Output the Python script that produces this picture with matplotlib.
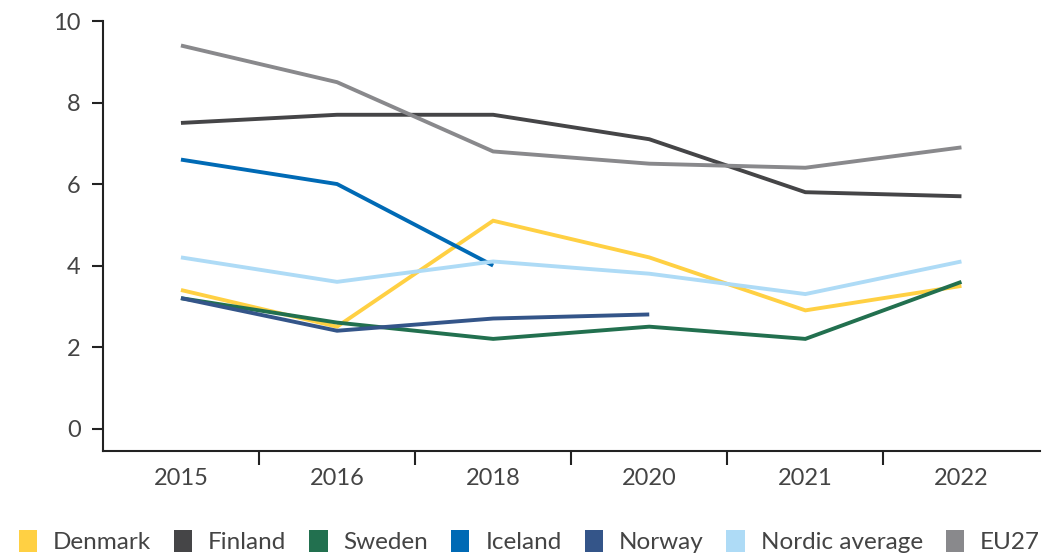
import numpy as np
import matplotlib
matplotlib.use('Agg')
import matplotlib.pyplot as plt
from matplotlib.patches import Patch

plt.rcParams['font.family'] = ['Lato', 'DejaVu Sans']

# Values per year (NaN where no data)
years = ['2015', '2016', '2018', '2020', '2021', '2022']
denmark = [3.4, 2.5, 5.1, 4.2, 2.9, 3.5]
finland = [7.5, 7.7, 7.7, 7.1, 5.8, 5.7]
sweden = [3.2, 2.6, 2.2, 2.5, 2.2, 3.6]
iceland = [6.6, 6.0, 4.0, np.nan, np.nan, np.nan]
norway = [3.2, 2.4, 2.7, 2.8, np.nan, np.nan]
nordic_avg = [4.2, 3.6, 4.1, 3.8, 3.3, 4.1]
eu27 = [9.4, 8.5, 6.8, 6.5, 6.4, 6.9]

series = [
    ('Denmark', denmark, '#FFD043'),
    ('Finland', finland, '#454547'),
    ('Sweden', sweden, '#22704F'),
    ('Iceland', iceland, '#006AB5'),
    ('Norway', norway, '#345589'),
    ('Nordic average', nordic_avg, '#AEDBF6'),
    ('EU27', eu27, '#89898C'),
]

fig = plt.figure(figsize=(10.5, 5.54), dpi=100)
ax = fig.add_axes([0.098, 0.186, 0.892, 0.776])

x = np.arange(len(years))
for name, vals, color in series:
    ax.plot(x, vals, color=color, linewidth=2.8, solid_capstyle='butt',
            solid_joinstyle='miter')

ax.set_xlim(-0.5, len(years) - 0.5)
ax.set_ylim(-0.55, 10)
ax.set_yticks([0, 2, 4, 6, 8, 10])

# Category labels centred, tick marks between categories
ax.set_xticks(x)
ax.set_xticklabels(years)
ax.tick_params(axis='x', which='major', length=0, pad=12)
ax.set_xticks(x[:-1] + 0.5, minor=True)
ax.tick_params(axis='x', which='minor', length=10, width=1.5, color='#222222')
ax.tick_params(axis='y', length=8, width=1.5, color='#222222', pad=8)
ax.tick_params(labelsize=17, labelcolor='#444444')

for side in ['top', 'right']:
    ax.spines[side].set_visible(False)
for side in ['left', 'bottom']:
    ax.spines[side].set_linewidth(1.5)
    ax.spines[side].set_color('#222222')
ax.spines['left'].set_bounds(-0.55, 10)

handles = [Patch(facecolor=c, edgecolor='none', label=n) for n, _, c in series]
fig.legend(handles=handles, loc='lower left', bbox_to_anchor=(0.004, -0.025),
           ncol=len(series), frameon=False, fontsize=17.5, labelcolor='#444444',
           handlelength=0.75, handleheight=1.0, handletextpad=0.65,
           columnspacing=0.95, borderaxespad=0.2)

fig.savefig('out.png', dpi=100)
